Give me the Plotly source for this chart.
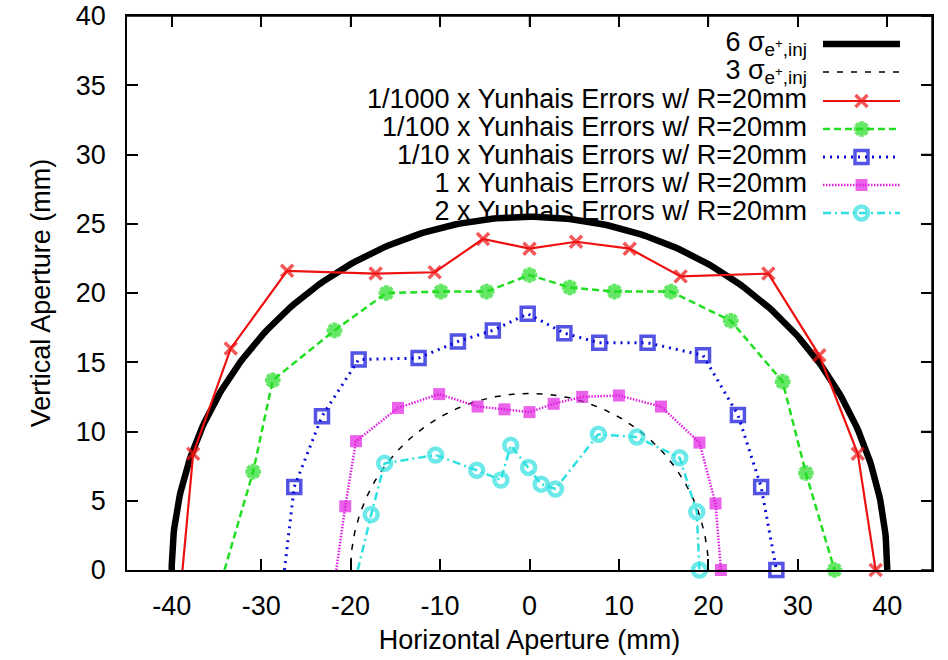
import numpy as np
import plotly.graph_objects as go

# ---------------- data ----------------
x_1000 = [-38.8, -37.6, -33.4, -27.1, -17.2, -10.6, -5.2, 0.0, 5.2, 11.2, 16.9, 26.7, 32.4, 36.7, 38.7]
y_1000 = [0.0, 8.4, 16.0, 21.6, 21.4, 21.5, 23.9, 23.2, 23.7, 23.2, 21.2, 21.4, 15.5, 8.4, 0.0]

x_100 = [-34.1, -30.9, -28.7, -21.8, -16.0, -9.9, -4.8, 0.0, 4.5, 9.5, 15.8, 22.5, 28.3, 30.9, 34.1]
y_100 = [0.0, 7.1, 13.7, 17.3, 20.0, 20.1, 20.1, 21.3, 20.4, 20.1, 20.1, 18.0, 13.6, 7.0, 0.0]

x_10 = [-27.4, -26.3, -23.2, -19.1, -12.4, -8.0, -4.1, -0.2, 3.9, 7.8, 13.2, 19.4, 23.3, 25.9, 27.6]
y_10 = [0.0, 6.0, 11.1, 15.2, 15.3, 16.5, 17.3, 18.5, 17.1, 16.4, 16.4, 15.5, 11.2, 6.0, 0.0]

x_1 = [-21.6, -20.6, -19.4, -14.7, -10.1, -5.8, -2.8, 0.0, 2.7, 5.9, 10.0, 14.7, 19.0, 20.8, 21.4]
y_1 = [0.0, 4.6, 9.3, 11.7, 12.7, 11.8, 11.6, 11.4, 12.0, 12.5, 12.6, 11.8, 9.2, 4.8, 0.0]

x_2 = [-19.2, -17.7, -16.2, -10.5, -5.9, -3.2, -2.1, -0.1, 1.3, 2.9, 7.7, 12.0, 16.8, 18.7, 19.0]
y_2 = [0.0, 4.0, 7.7, 8.3, 7.2, 6.5, 9.0, 7.4, 6.2, 5.85, 9.8, 9.6, 8.1, 4.2, 0.0]

# injected-beam ellipse half axes (mm) for 6 sigma; 3 sigma is half of it
sig6_a, sig6_b = 40.0, 25.5
sig3_a, sig3_b = 20.0, 12.75

x_range = [-45, 45]
y_range = [0, 40]
x_ticks = [-40, -30, -20, -10, 0, 10, 20, 30, 40]
x_tick_text = ["-40", "-30", "-20", "-10", "0", "10", "20", "30", "40"]
y_ticks = [0, 5, 10, 15, 20, 25, 30, 35, 40]
y_tick_text = ["0", "5", "10", "15", "20", "25", "30", "35", "40"]

labels = [
    "6 σ<sub>e<sup>+</sup>,inj</sub>",
    "3 σ<sub>e<sup>+</sup>,inj</sub>",
    "1/1000 x Yunhais Errors w/ R=20mm",
    "1/100 x Yunhais Errors w/ R=20mm",
    "1/10 x Yunhais Errors w/ R=20mm",
    "1 x Yunhais Errors w/ R=20mm",
    "2 x Yunhais Errors w/ R=20mm",
]

FONT = "Liberation Sans, Arial, Helvetica, sans-serif"
FS = 27

theta = np.linspace(0, np.pi, 241)

styles = [
    dict(line=dict(color="black", width=6.5), marker=None),
    dict(line=dict(color="black", width=1.5, dash="6px,8px"), marker=None),
    dict(line=dict(color="#ee1111", width=2.2), marker=dict(symbol="x-thin-open", size=12, line=dict(width=3.5, color="#ee1111"))),
    dict(line=dict(color="#22dd22", width=2.5, dash="7px,4px"), marker=dict(symbol="asterisk-open", size=13, line=dict(width=4.5, color="#22dd22"))),
    dict(line=dict(color="#0a0ad8", width=3, dash="2px,5px"), marker=dict(symbol="square-open", size=13, line=dict(width=3.5, color="#0a0ad8"))),
    dict(line=dict(color="#e020e0", width=2.5, dash="1.5px,1.5px"), marker=dict(symbol="square", size=12, color="#e020e0", line=dict(width=0))),
    dict(line=dict(color="#30e0e0", width=2.5, dash="8px,4px,2px,4px"), marker=dict(symbol="circle-open", size=13, line=dict(width=4.5, color="#30e0e0"))),
]

series = [
    (sig6_a * np.cos(theta), sig6_b * np.sin(theta)),
    (sig3_a * np.cos(theta), sig3_b * np.sin(theta)),
    (x_1000, y_1000),
    (x_100, y_100),
    (x_10, y_10),
    (x_1, y_1),
    (x_2, y_2),
]

fig = go.Figure()

plot_l, plot_r, plot_t, plot_b = 127, 932, 16, 570   # plot frame in page pixels
W, H = 948, 660
TICKLEN = 11

def fx(px):
    return (px - plot_l) / (plot_r - plot_l)
def fy(py):
    return (plot_b - py) / (plot_b - plot_t)

# ---- data curves on the main axes ----
for lab, st, (sx, sy) in zip(labels, styles, series):
    if st["marker"] is None:
        fig.add_trace(go.Scatter(x=sx, y=sy, mode="lines", line=st["line"], name=lab,
                                 xaxis="x", yaxis="y", showlegend=False))
    else:
        m = dict(st["marker"])
        m["size"] = [0] + [st["marker"]["size"]] * (len(sx) - 1)
        fig.add_trace(go.Scatter(x=sx, y=sy, mode="lines+markers", line=st["line"], marker=m,
                                 name=lab, xaxis="x", yaxis="y", showlegend=False, cliponaxis=False))

# ---- key (gnuplot style: text right aligned, sample on the right) on an overlay ----
row_py = [44, 72, 101, 129, 157, 185, 213]
key_x0, key_x1, key_txt = fx(823), fx(900), fx(807)

for lab, st, py in zip(labels, styles, row_py):
    ky = fy(py)
    fig.add_trace(go.Scatter(
        x=[key_txt], y=[ky], mode="text", text=[lab], textposition="middle left",
        textfont=dict(family=FONT, size=FS, color="black"),
        xaxis="x2", yaxis="y2", showlegend=False, hoverinfo="skip", cliponaxis=False))
    kx = [key_x0, (key_x0 + key_x1) / 2, key_x1]
    if st["marker"] is None:
        fig.add_trace(go.Scatter(x=kx, y=[ky] * 3, mode="lines", line=st["line"],
                                 xaxis="x2", yaxis="y2", showlegend=False, hoverinfo="skip"))
    else:
        m = dict(st["marker"])
        m["size"] = [0, st["marker"]["size"], 0]
        fig.add_trace(go.Scatter(x=kx, y=[ky] * 3, mode="lines+markers", line=st["line"], marker=m,
                                 xaxis="x2", yaxis="y2", showlegend=False, hoverinfo="skip"))

axis_common = dict(
    showgrid=False, zeroline=False, showline=True, linecolor="black", linewidth=1.5,
    mirror="ticks", ticks="inside", ticklen=TICKLEN, tickwidth=1.5, tickcolor="black",
    tickfont=dict(family=FONT, size=FS, color="black"), automargin=False,
    ticklabeloverflow="allow", fixedrange=True,
)

# explicit frame: top / right border with mirrored ticks
frame = dict(color="black", width=1.5)
shapes = [dict(type="line", xref="paper", yref="paper", x0=0, x1=1, y0=1, y1=1, line=frame, layer="above"),
          dict(type="line", xref="paper", yref="paper", x0=1, x1=1, y0=0, y1=1, line=frame, layer="above")]
dy_tick = TICKLEN / (plot_b - plot_t)
dx_tick = TICKLEN / (plot_r - plot_l)
for t in x_ticks:
    shapes.append(dict(type="line", xref="x", yref="paper", x0=t, x1=t, y0=1, y1=1 - dy_tick,
                       line=frame, layer="above"))
for t in y_ticks:
    shapes.append(dict(type="line", xref="paper", yref="y", x0=1, x1=1 - dx_tick, y0=t, y1=t,
                       line=frame, layer="above"))

fig.update_layout(
    width=W, height=H,
    margin=dict(l=plot_l, r=W - plot_r, t=plot_t, b=H - plot_b),
    paper_bgcolor="white", plot_bgcolor="white",
    font=dict(family=FONT, size=FS, color="black"),
    showlegend=False,
    shapes=shapes,
    xaxis=dict(range=x_range, tickvals=x_ticks, ticktext=x_tick_text, ticklabelstandoff=11,
               title=dict(text="Horizontal Aperture (mm)", font=dict(family=FONT, size=FS), standoff=10),
               **axis_common),
    yaxis=dict(range=y_range, tickvals=y_ticks, ticktext=y_tick_text, ticklabelstandoff=14,
               title=dict(text="Vertical Aperture (mm)", font=dict(family=FONT, size=FS), standoff=17),
               **axis_common),
    xaxis2=dict(overlaying="x", anchor="y2", range=[0, 1], visible=False, fixedrange=True, automargin=False),
    yaxis2=dict(overlaying="y", anchor="x2", range=[0, 1], visible=False, fixedrange=True, automargin=False),
)

fig.write_html("out.html", config={"displayModeBar": False},
               post_script="document.body.style.margin='0';document.body.style.overflow='hidden';")
